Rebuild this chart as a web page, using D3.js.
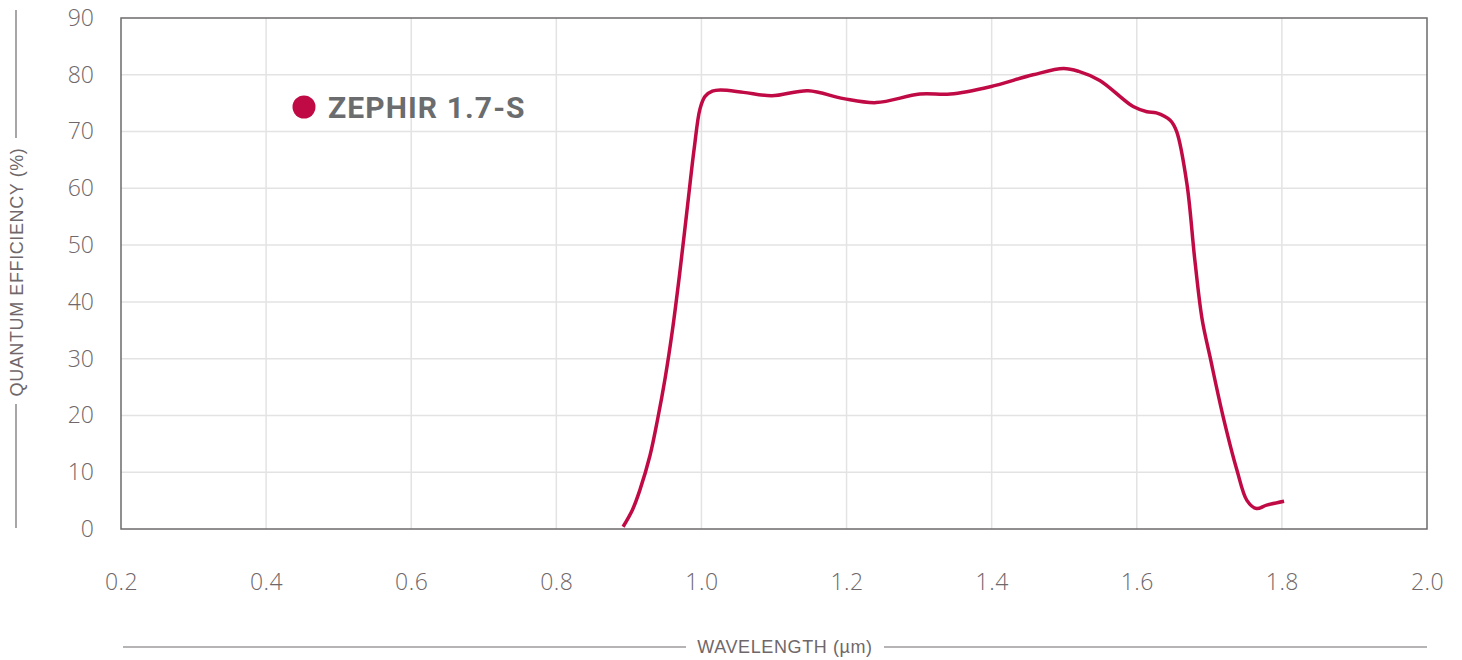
<!DOCTYPE html>
<html>
<head>
<meta charset="utf-8">
<script src="https://cdn.jsdelivr.net/npm/d3@7"></script>
<style>
  html, body { margin: 0; padding: 0; background: #fff; }
  svg { display: block; }
</style>
</head>
<body>
<svg id="chart" width="1462" height="660"></svg>
<script>
const wavelength = [0.892, 0.905, 0.915, 0.929, 0.940, 0.950, 0.960, 0.970, 0.980, 0.990, 0.998, 1.005, 1.015, 1.026, 1.058, 1.097, 1.147, 1.196, 1.241, 1.301, 1.343, 1.398, 1.457, 1.499, 1.520, 1.549, 1.595, 1.614, 1.627, 1.646, 1.655, 1.669, 1.680, 1.690, 1.701, 1.719, 1.738, 1.752, 1.765, 1.779, 1.803];
const efficiency = [0.4, 3.4, 6.8, 12.9, 19.6, 26.6, 35.0, 45.0, 56.0, 67.0, 74.0, 76.2, 77.1, 77.3, 76.9, 76.3, 77.2, 75.8, 75.1, 76.6, 76.6, 77.9, 80.0, 81.1, 80.6, 79.0, 74.4, 73.5, 73.3, 72.0, 70.0, 60.9, 47.4, 37.0, 30.3, 19.8, 10.4, 5.0, 3.6, 4.2, 4.9];
const xTicks = [0.2, 0.4, 0.6, 0.8, 1.0, 1.2, 1.4, 1.6, 1.8, 2.0];
const yTicks = [0, 10, 20, 30, 40, 50, 60, 70, 80, 90];
const seriesName = "ZEPHIR 1.7-S";

const svg = d3.select("#chart");
const pLeft = 121, pRight = 1427, pTop = 18, pBottom = 529;
const TEXT = "#6f6769", FRAME = "#6e6a6b", GRID = "#e3e3e3", RED = "#c00a45";

const x = d3.scaleLinear().domain([0.2, 2.0]).range([pLeft, pRight]);
const y = d3.scaleLinear().domain([0, 90]).range([pBottom, pTop]);

// grid
svg.append("g").selectAll("line").data(xTicks.slice(1, -1)).join("line")
  .attr("x1", d => x(d)).attr("x2", d => x(d))
  .attr("y1", pTop).attr("y2", pBottom)
  .attr("stroke", GRID).attr("stroke-width", 1.5);
svg.append("g").selectAll("line").data(yTicks.slice(1, -1)).join("line")
  .attr("x1", pLeft).attr("x2", pRight)
  .attr("y1", d => y(d)).attr("y2", d => y(d))
  .attr("stroke", GRID).attr("stroke-width", 1.5);

// frame
svg.append("rect")
  .attr("x", pLeft).attr("y", pTop)
  .attr("width", pRight - pLeft).attr("height", pBottom - pTop)
  .attr("fill", "none").attr("stroke", FRAME).attr("stroke-width", 1.5);

// tick labels
const tickFont = "300 23px 'Open Sans', 'Liberation Sans', sans-serif";
const yAxis = svg.append("g")
  .attr("transform", `translate(${pLeft - 24},0)`)
  .call(d3.axisLeft(y).tickValues(yTicks).tickSize(0).tickFormat(d3.format("d")));
yAxis.select(".domain").remove();
yAxis.selectAll("text")
  .attr("fill", TEXT)
  .style("font", tickFont);

const xAxis = svg.append("g")
  .attr("transform", `translate(0,${pBottom + 42})`)
  .call(d3.axisBottom(x).tickValues(xTicks).tickSize(0).tickFormat(d3.format(".1f")));
xAxis.select(".domain").remove();
xAxis.selectAll("text")
  .attr("fill", TEXT)
  .style("font", tickFont)
  .style("letter-spacing", "0.5px");

// axis titles with rules
const titleFont = "18px 'Liberation Sans', Arial, sans-serif";
svg.append("text")
  .attr("transform", "translate(23,272) rotate(-90)")
  .attr("text-anchor", "middle")
  .attr("fill", TEXT)
  .style("font", titleFont)
  .style("letter-spacing", "0.6px")
  .text("QUANTUM EFFICIENCY (%)");
svg.append("line").attr("x1", 16).attr("x2", 16).attr("y1", 10).attr("y2", 138)
  .attr("stroke", FRAME).attr("stroke-width", 1.2);
svg.append("line").attr("x1", 16).attr("x2", 16).attr("y1", 404).attr("y2", 528)
  .attr("stroke", FRAME).attr("stroke-width", 1.2);

svg.append("text")
  .attr("x", 785).attr("y", 653)
  .attr("text-anchor", "middle")
  .attr("fill", TEXT)
  .style("font", titleFont)
  .style("letter-spacing", "0.6px")
  .text("WAVELENGTH (µm)");
svg.append("line").attr("x1", 123).attr("x2", 686).attr("y1", 647).attr("y2", 647)
  .attr("stroke", FRAME).attr("stroke-width", 1.2);
svg.append("line").attr("x1", 884).attr("x2", 1427).attr("y1", 647).attr("y2", 647)
  .attr("stroke", FRAME).attr("stroke-width", 1.2);

// curve
const pts = wavelength.map((w, i) => [w, efficiency[i]]);
svg.append("path")
  .datum(pts)
  .attr("fill", "none")
  .attr("stroke", RED)
  .attr("stroke-width", 3.5)
  .attr("stroke-linejoin", "round")
  .attr("d", d3.line().x(d => x(d[0])).y(d => y(d[1])).curve(d3.curveCatmullRom.alpha(0.5)));

// legend
svg.append("circle").attr("cx", 304).attr("cy", 107).attr("r", 11.5).attr("fill", RED);
svg.append("text")
  .attr("x", 328).attr("y", 118)
  .attr("fill", "#6b6c6e")
  .style("font", "bold 30px 'Roboto', 'Liberation Sans', sans-serif")
  .style("letter-spacing", "1.1px")
  .text(seriesName);
</script>
</body>
</html>
